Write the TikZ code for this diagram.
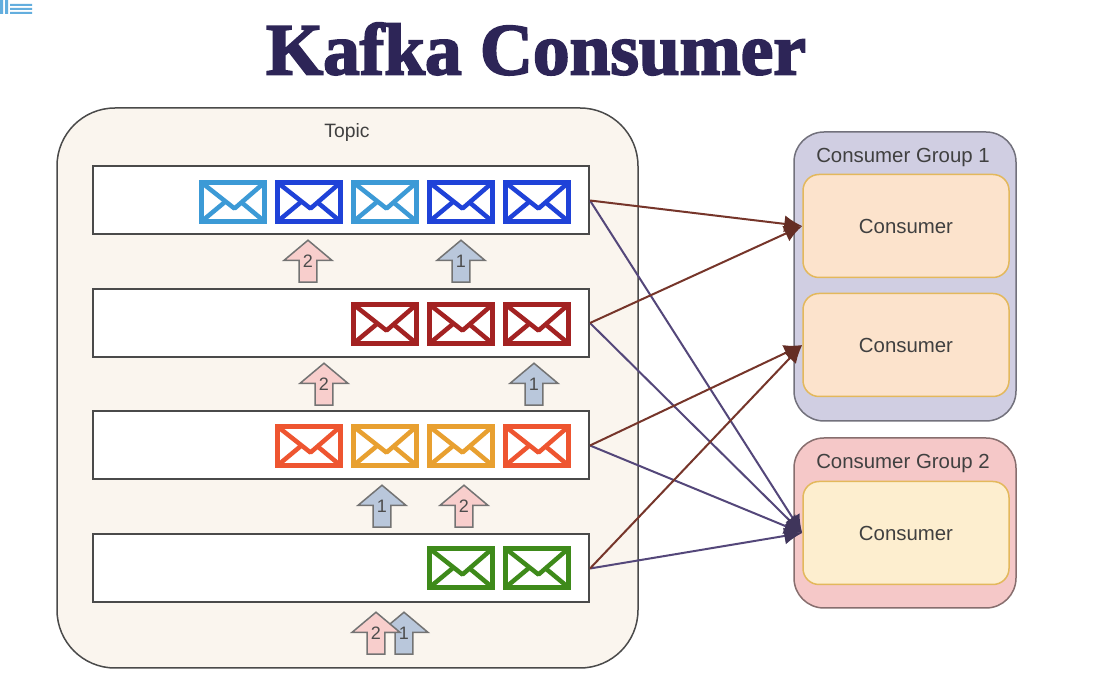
\documentclass[tikz,border=0pt]{standalone}
\usepackage{fontspec}
\setmainfont{Liberation Sans}
\newfontfamily\titlefont[FakeBold=2.6]{Liberation Serif Bold}
\usepackage{xcolor}
\usetikzlibrary{arrows.meta,shapes.arrows}
\def\px{0.75pt}
\definecolor{topicfill}{HTML}{FAF5EE}
\definecolor{edgegrey}{HTML}{4A4A4A}
\definecolor{titleink}{HTML}{2D2557}
\definecolor{skyblue}{HTML}{3C9AD6}
\definecolor{royalblue}{HTML}{1F42D8}
\definecolor{darkred}{HTML}{A32222}
\definecolor{redorange}{HTML}{EE5530}
\definecolor{amber}{HTML}{E8A030}
\definecolor{leaf}{HTML}{3E8A1A}
\definecolor{groupone}{HTML}{D0CEE2}
\definecolor{grouptwo}{HTML}{F5C8C8}
\definecolor{consumerone}{HTML}{FCE3CC}
\definecolor{consumertwo}{HTML}{FDEECF}
\definecolor{consumerline}{HTML}{E3B85C}
\definecolor{brownline}{HTML}{76352A}
\definecolor{purpleline}{HTML}{54477A}
\definecolor{pinkup}{HTML}{F8CECC}
\definecolor{blueup}{HTML}{B9C7DB}
\tikzset{
	topicbox/.style={draw=edgegrey,fill=topicfill,line width=1.5*\px,rounded corners=58*\px,minimum width=581*\px,minimum height=560*\px,inner sep=0pt},
	queuebox/.style={draw=edgegrey,fill=white,line width=2*\px,minimum width=496*\px,minimum height=68*\px,inner sep=0pt},
	groupbox/.style={draw=#1!55!black,fill=#1,line width=1.5*\px,rounded corners=30*\px,minimum width=222*\px,inner sep=0pt},
	consumerbox/.style={draw=consumerline,fill=#1,line width=1.5*\px,rounded corners=16*\px,minimum width=206*\px,minimum height=103*\px,inner sep=0pt,font=\fontsize{15.3pt}{18pt}\selectfont,text=black!75},
	grouplabel/.style={font=\fontsize{15.3pt}{18pt}\selectfont,text=black!75,inner sep=0pt},
	mail/.style={draw=#1,fill=white,line width=5*\px,minimum width=63*\px,minimum height=39*\px,inner sep=0pt,
		path picture={
			\draw[#1,line width=4.5*\px,line join=round] (path picture bounding box.north west) -- ++(33,26) -- (path picture bounding box.north east);
			\draw[#1,line width=4.5*\px] (path picture bounding box.south west) -- ++(24,-20);
			\draw[#1,line width=4.5*\px] (path picture bounding box.south east) -- ++(-24,-20);
		}},
	offset/.style={draw=black!55,fill=#1,line width=1.5*\px,single arrow,shape border rotate=90,minimum width=48*\px,minimum height=42*\px,single arrow head extend=13*\px,single arrow tip angle=100,inner xsep=1.5pt,inner ysep=0pt,text height=10pt,text depth=6pt,font=\fontsize{13.5pt}{14pt}\selectfont,text=black!70},
	feedbrown/.style={draw=brownline,line width=2*\px,-{Latex[length=18*\px,width=17*\px,color=brownline!85!black]}},
	feedpurple/.style={draw=purpleline,line width=2*\px,-{Latex[length=18*\px,width=17*\px,color=purpleline!75!black]}}
}
\begin{document}
\begin{tikzpicture}[x=\px,y=-\px]
	\useasboundingbox (0,0) rectangle (1101,698);
	\fill[white] (0,0) rectangle (1101,698);
	\fill[skyblue!80] (0,0) rectangle (3,14) (5,0) rectangle (8,14);
	\fill[skyblue!80] (10,4) rectangle (32,6) (10,8) rectangle (32,10) (10,12) rectangle (32,14);
	\node[text=titleink,font=\titlefont\fontsize{55pt}{60pt}\selectfont,inner sep=0pt] (title) at (536,49) {Kafka Consumer};
	\node[topicbox] (topic) at (347.5,388) {};
	\node[grouplabel,font=\fontsize{14.5pt}{18pt}\selectfont] (topiclabel) at (347,133) {Topic};
	\node[queuebox] (q1) at (341,200.5) {};
	\node[queuebox] (q2) at (341,323) {};
	\node[queuebox] (q3) at (341,445.5) {};
	\node[queuebox] (q4) at (341,568.5) {};
	\foreach \x/\c [count=\i] in {233/skyblue,309/royalblue,385/skyblue,461/royalblue,537/royalblue}
		\node[mail=\c] (ma\i) at (\x,202) {};
	\foreach \x/\c [count=\i] in {385/darkred,461/darkred,537/darkred}
		\node[mail=\c] (mb\i) at (\x,324) {};
	\foreach \x/\c [count=\i] in {309/redorange,385/amber,461/amber,537/redorange}
		\node[mail=\c] (mc\i) at (\x,446) {};
	\foreach \x/\c [count=\i] in {461/leaf,537/leaf}
		\node[mail=\c] (md\i) at (\x,568) {};
	\node[offset=pinkup] (oa2) at (308,265) {2};
	\node[offset=blueup] (oa1) at (461,265) {1};
	\node[offset=pinkup] (ob2) at (324,388) {2};
	\node[offset=blueup] (ob1) at (534,388) {1};
	\node[offset=blueup] (oc1) at (382,510) {1};
	\node[offset=pinkup] (oc2) at (464,510) {2};
	\node[offset=blueup] (od1) at (404,637) {1};
	\node[offset=pinkup] (od2) at (376,637) {2};
	\node[groupbox=groupone,minimum height=289*\px] (g1) at (905,276.5) {};
	\node[groupbox=grouptwo,minimum height=170*\px] (g2) at (905,523) {};
	\node[grouplabel] (g1label) at (903,157) {Consumer Group 1};
	\node[grouplabel] (g2label) at (903,463) {Consumer Group 2};
	\node[consumerbox=consumerone] (c1) at (906,226) {Consumer};
	\node[consumerbox=consumerone] (c2) at (906,345) {Consumer};
	\node[consumerbox=consumertwo] (c3) at (906,533) {Consumer};
	\draw[feedpurple] (q1.east) -- (c3.west);
	\draw[feedpurple] (q2.east) -- (c3.west);
	\draw[feedpurple] (q3.east) -- (c3.west);
	\draw[feedpurple] (q4.east) -- (c3.west);
	\draw[feedbrown] (q1.east) -- (c1.west);
	\draw[feedbrown] (q2.east) -- (c1.west);
	\draw[feedbrown] (q3.east) -- (c2.west);
	\draw[feedbrown] (q4.east) -- (c2.west);
\end{tikzpicture}
\end{document}
